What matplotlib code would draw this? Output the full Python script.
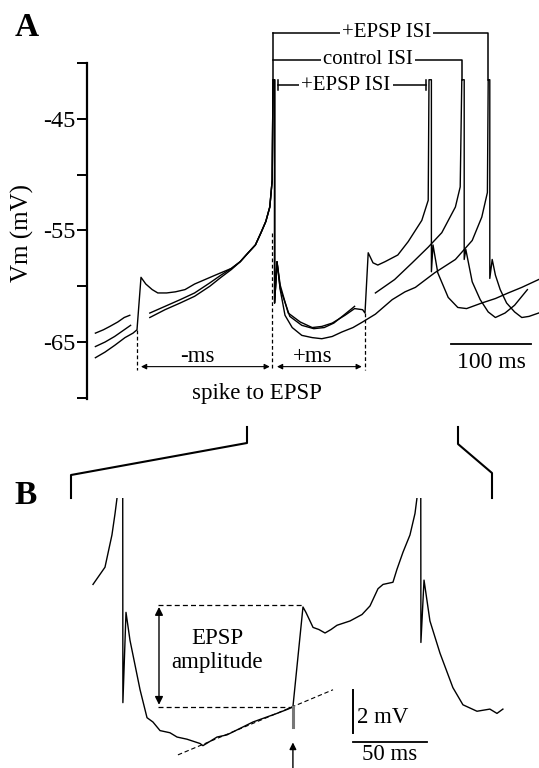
import numpy as np
import matplotlib.pyplot as plt
from matplotlib.lines import Line2D

plt.rcParams['font.family'] = ['Liberation Serif', 'DejaVu Serif']
plt.rcParams['axes.unicode_minus'] = False

nan = np.nan

# ---- Panel A: three traces aligned on the first spike (ms, mV) ----
# EPSP before the spike (-ms) -> longest ISI
early_t = [-222, -210, -198, -185, -175, -170, -165, -159, -151, -144, -133, -122, -110, -98, -85,
           -72, -62, -52, -41, -31, -22, -15, -9, -4, -1, 0, 2, 2, 5, 9, 15, 24, 36, 49, 61,
           74, 86, 100, 112, 128, 149, 165, 178, 202, 228, 249, 261, 268, 269, 271, 271, 274, 278, 284, 292,
           302, 311, 320, 332]
early_v = [-66.4, -65.9, -65.3, -64.6, -64.2, -63.9, -59.2, -59.8, -60.3, -60.6, -60.6, -60.5, -60.3, -59.8, -59.4,
           -59.0, -58.7, -58.4, -57.8, -57.0, -56.3, -55.2, -54.2, -52.9, -50.5, -41.5, -41.5, -61.5, -57.8, -60.3,
           -62.6, -63.7, -64.4, -64.6, -64.7, -64.5, -64.1, -63.7, -63.2, -62.5, -61.2, -60.5, -60.1, -58.8, -57.6,
           -55.9, -53.8, -51.6, -41.5, -41.5, -59.3, -57.6, -59.0, -60.3, -61.5, -62.3, -62.8, -62.7, -62.4]

# EPSP after the spike (+ms) -> shortest ISI
late_t = [-222, -212, -204, -194, -186, -179, nan, -154, -135, -116, -98, -79, -65, -52, -41,
          -31, -22, -15, -9, -4, -1, 0, 2, 2, 5, 9, 19, 34, 49, 61,
          74, 90, 102, 112, 115, 119, 125, 131, 140, 156, 169, 186, 194, 195, 198,
          198, 200, 206, 219, 231, 242, 261, 278, 294, 311, 332]
late_v = [-64.2, -63.9, -63.6, -63.2, -62.8, -62.6, nan, -62.4, -61.8, -61.2, -60.6, -59.7, -59.0, -58.4, -57.8,
          -57.0, -56.3, -55.2, -54.2, -52.9, -50.5, -41.5, -41.5, -61.5, -57.8, -59.9, -62.4, -63.2, -63.7, -63.6,
          -63.3, -62.6, -62.0, -62.1, -62.4, -57.0, -57.9, -58.1, -57.8, -57.2, -56.0, -54.1, -52.3, -41.5, -41.5,
          -58.7, -56.3, -58.8, -61.0, -61.9, -62.0, -61.5, -61.1, -60.6, -60.1, -59.4]

# control, no EPSP
ctrl_t = [-222, -210, -198, -186, -178, nan, -154, -135, -116, -98, -79, -65, -52, -41, -31,
          -22, -15, -9, -4, -1, 0, 2, 2, 5, 9, 21, 36, 51, 64, 76,
          90, 102, nan, 128, 152, 174, 194, 211, 228, 234, 236, 239, 239, 241, 249,
          259, 269, 278, 290, 302, 318]
ctrl_v = [-65.4, -65.0, -64.5, -63.9, -63.5, nan, -62.8, -62.1, -61.5, -60.9, -60.0, -59.2, -58.5, -57.8, -57.0,
          -56.3, -55.2, -54.2, -52.9, -50.5, -41.5, -41.5, -61.5, -57.8, -60.2, -62.7, -63.5, -63.8, -63.7, -63.3,
          -62.5, -61.8, nan, -60.6, -59.4, -57.9, -56.5, -55.2, -52.9, -51.1, -41.5, -41.5, -57.6, -56.7, -59.6,
          -61.2, -62.3, -62.8, -62.4, -61.7, -60.3]

epsp_times = [-170, 115]          # ms, relative to first spike
second_spikes = [194, 236, 269]   # +EPSP (late), control, +EPSP (early)

# ---- Panel B: expanded +ms trace ----
b_t = [-19.6, -11.5, -6.8, -4.7, -3.4, -2.0, 0.4, 0.6, 2.7, 5.4, 12.2, 16.9, 20.9, 25.7, 32.4,
       37.2, 43.9, 52.7, 54.7, 59.5, 64.2, 70.9, 79.7, 88.5, 96.6, 104.7, 112.2, 115.5, 122.3, 124.3,
       129.1, 133.1, 137.2, 141.2, 145.3, 154.1, 162.2, 167.6, 173.0, 176.4, 183.1, 185.8, 189.9, 194.6, 198.0,
       199.3, 200.3, 201.8, 202.0, 204.1, 208.1, 214.9, 223.6, 230.4, 239.9, 248.6, 253.4, 257.4]
b_v = [-56.7, -55.9, -54.4, -53.4, -52.7, -45.0, -45.0, -62.2, -58.0, -59.3, -61.6, -62.9, -63.1, -63.5, -63.6,
       -63.8, -63.9, -64.1, -64.2, -64.0, -63.8, -63.7, -63.4, -63.1, -62.9, -62.7, -62.5, -62.4, -57.75, -58.0,
       -58.7, -58.8, -58.96, -58.8, -58.6, -58.4, -58.1, -57.7, -56.9, -56.7, -56.6, -56.0, -55.2, -54.4, -53.4,
       -52.7, -45.0, -45.0, -59.4, -56.5, -58.4, -59.9, -61.5, -62.3, -62.6, -62.5, -62.7, -62.5]
b_epsp_t = 115.5
b_base = -62.4
b_peak = -57.75

W, H = 539, 768
fig = plt.figure(figsize=(W / 100, H / 100), dpi=100)


def fpx(x, y):
    return x / W, 1 - y / H


lw = 1.0
fs = 16.5

# ================= Panel A =================
axA = fig.add_axes([87 / W, 1 - 399 / H, (W - 87) / W, 336 / H])
axA.set_xlim(-232.5, 332.5)
axA.set_ylim(-70.1, -40.0)
for s in ['top', 'right', 'bottom']:
    axA.spines[s].set_visible(False)
axA.spines['left'].set_linewidth(1.6)
axA.set_xticks([])
axA.set_yticks([-45, -55, -65])
axA.set_yticks([-40, -50, -60, -70], minor=True)
axA.tick_params(axis='y', which='both', direction='out', length=7, width=1.4, pad=1, labelsize=17.5)
axA.patch.set_visible(False)

for tt, vv in [(early_t, early_v), (ctrl_t, ctrl_v), (late_t, late_v)]:
    axA.plot(tt, vv, color='black', lw=lw, clip_on=False)

dash = (0, (3, 2))
axA.plot([epsp_times[0]] * 2, [-63.9, -67.5], color='black', lw=0.9, ls=dash, clip_on=False)
axA.plot([-1, -1], [-55.2, -67.5], color='black', lw=0.9, ls=dash, clip_on=False)
axA.plot([epsp_times[1]] * 2, [-62.4, -67.5], color='black', lw=0.9, ls=dash, clip_on=False)

arr = dict(arrowstyle='<|-|>', lw=0.8, color='black', mutation_scale=8, shrinkA=0, shrinkB=0)
axA.annotate('', xy=(-4, -67.2), xytext=(epsp_times[0] + 5, -67.2), arrowprops=arr)
axA.annotate('', xy=(epsp_times[1] - 4, -67.2), xytext=(5, -67.2), arrowprops=arr)
axA.text(-94, -66.3, '-ms', ha='center', va='center', fontsize=fs)
axA.text(50, -66.3, '+ms', ha='center', va='center', fontsize=fs)
axA.text(-20, -69.6, 'spike to EPSP', ha='center', va='center', fontsize=fs)

# ISI brackets
lbox = dict(facecolor='white', edgecolor='none', pad=1.5)
top_v, ctl_v, inn_v = -37.3, -39.7, -42.0
axA.plot([0, 0], [top_v, -41.5], color='black', lw=1.1, clip_on=False)
axA.plot([0, second_spikes[2], second_spikes[2]], [top_v, top_v, -41.5], color='black', lw=1.1, clip_on=False)
axA.plot([0, second_spikes[1], second_spikes[1]], [ctl_v, ctl_v, -41.5], color='black', lw=1.1, clip_on=False)
axA.plot([6, second_spikes[0] - 3], [inn_v, inn_v], color='black', lw=1.1, clip_on=False)
for xe in [6, second_spikes[0] - 3]:
    axA.plot([xe, xe], [inn_v - 0.45, inn_v + 0.45], color='black', lw=1.1, clip_on=False)
axA.text(142, top_v, '+EPSP ISI', ha='center', va='center', fontsize=15, bbox=lbox, zorder=5)
axA.text(119, ctl_v, 'control ISI', ha='center', va='center', fontsize=15, bbox=lbox, zorder=5)
axA.text(91, inn_v, '+EPSP ISI', ha='center', va='center', fontsize=15, bbox=lbox, zorder=5)

# 100 ms scale bar
axA.plot([222.5, 322.5], [-65.2, -65.2], color='black', lw=1.3)
axA.text(272.5, -66.8, '100 ms', ha='center', va='center', fontsize=17)

fig.text(*fpx(22, 233), 'Vm (mV)', rotation=90, ha='center', va='center', fontsize=18)
fig.text(*fpx(27, 27), 'A', ha='center', va='center', fontsize=24, fontweight='bold')
fig.text(*fpx(26, 495), 'B', ha='center', va='center', fontsize=24, fontweight='bold')

# zoom brackets linking A to B
for pts in [[(71, 498), (71, 475), (247, 443), (247, 427)],
            [(458, 427), (458, 444), (492, 473), (492, 498)]]:
    xs, ys = zip(*[fpx(x, y) for x, y in pts])
    fig.add_artist(Line2D(xs, ys, color='black', lw=1.5, transform=fig.transFigure))

# ================= Panel B =================
axB = fig.add_axes([60 / W, 0, (W - 60) / W, 270 / H])
axB.set_xlim(-41.9, 281.8)
axB.set_ylim(-65.24, -52.68)
axB.axis('off')
axB.plot(b_t, b_v, color='black', lw=lw)

dashB = (0, (4, 2.5))
axB.plot([24.3, b_epsp_t + 7], [b_peak + 0.1, b_peak + 0.1], color='black', lw=0.9, ls=dashB)
axB.plot([24.3, b_epsp_t], [b_base, b_base], color='black', lw=0.9, ls=dashB)
axB.plot([37.8, 142.6], [-64.63, -61.6], color='black', lw=0.8, ls=dashB)
axB.annotate('', xy=(25, b_peak), xytext=(25, b_base + 0.1),
             arrowprops=dict(arrowstyle='<|-|>', lw=1.0, color='black', mutation_scale=12, shrinkA=0, shrinkB=0))
axB.text(64.2, -59.2, 'EPSP', ha='center', va='center', fontsize=fs)
axB.text(64.2, -60.35, 'amplitude', ha='center', va='center', fontsize=fs)

# stimulus artifact and arrow
axB.plot([b_epsp_t, b_epsp_t], [b_base, -63.33], color='#777777', lw=2.2)
axB.annotate('', xy=(b_epsp_t, -64.05), xytext=(b_epsp_t, -65.3),
             arrowprops=dict(arrowstyle='-|>', lw=1.0, color='black', mutation_scale=10, shrinkA=0, shrinkB=0),
             annotation_clip=False)

# scale bars
axB.plot([156, 156], [-63.6, -61.6], color='black', lw=1.4)
axB.plot([156, 206], [-64.03, -64.03], color='black', lw=1.3)
axB.text(159, -62.9, '2 mV', ha='left', va='center', fontsize=fs)
axB.text(181, -64.6, '50 ms', ha='center', va='center', fontsize=fs)

fig.savefig('out.png', dpi=100)
